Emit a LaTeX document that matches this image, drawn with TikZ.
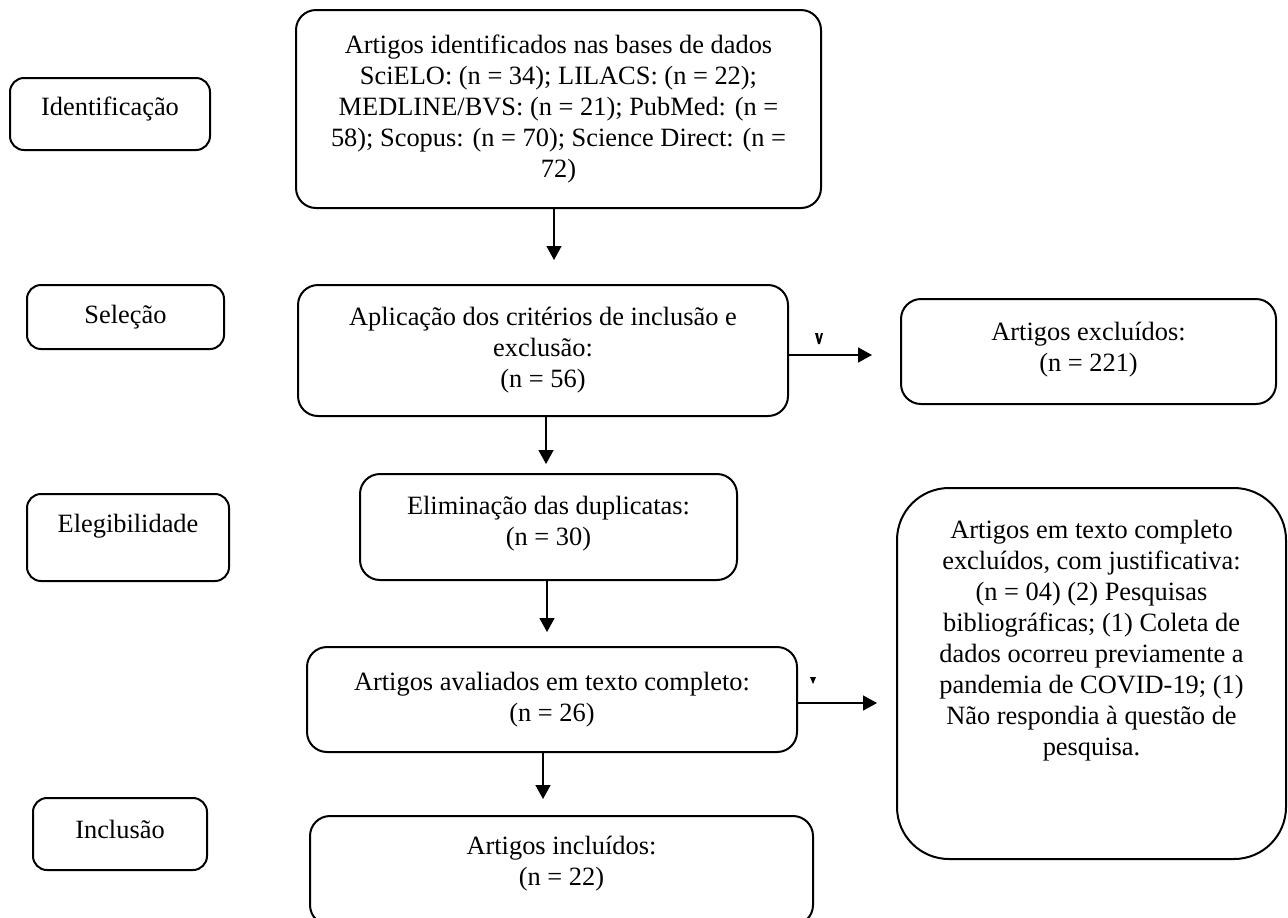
\documentclass[tikz,border=0pt]{standalone}
\usepackage{fontspec}
\setmainfont{Liberation Serif}
\usetikzlibrary{arrows.meta}
\begin{document}
\begin{tikzpicture}[x=0.5pt,y=-0.5pt,
  every node/.style={font=\fontsize{13.2pt}{15.5pt}\selectfont},
  mainbox/.style={draw, line width=1pt, rounded corners=10pt, inner sep=0pt},
  lblbox/.style={draw, line width=1pt, rounded corners=7pt, inner sep=0pt},
  bigbox/.style={draw, line width=1pt, rounded corners=26pt, inner sep=0pt},
  txt/.style={align=center, inner sep=0pt},
  arr/.style={line width=0.75pt, -{Triangle[length=7pt,width=7.5pt]}}]
\useasboundingbox (0,0) rectangle (1288,917);

% stage labels
\node[lblbox, minimum width=100pt, minimum height=36pt] (ident) at (110,114) {};
\node[txt] (identt) at ([yshift=2.5pt]ident.center) {Identificação};
\node[lblbox, minimum width=98.5pt, minimum height=32pt] (sell) at (125.5,317) {};
\node[txt] (sellt) at (sell.center) {Seleção};
\node[lblbox, minimum width=101pt, minimum height=43.5pt] (eleg) at (128,537.5) {};
\node[txt] (elegt) at ([yshift=5.5pt]eleg.center) {Elegibilidade};
\node[lblbox, minimum width=87pt, minimum height=36pt] (incll) at (120,834) {};
\node[txt] (incllt) at ([yshift=2.5pt]incll.center) {Inclusão};

% main column
\node[mainbox, minimum width=262.5pt, minimum height=99pt] (top) at (558.5,109) {};
\node[txt] (topt) at (top.center) {Artigos identificados nas bases de dados\\
SciELO: (n = 34); LILACS: (n = 22);\\
MEDLINE/BVS: (n = 21); PubMed: (n =\\
58); Scopus: (n = 70); Science Direct: (n =\\
72)};

\node[mainbox, minimum width=245pt, minimum height=65.5pt] (selm) at (543,350.5) {};
\node[txt] (selmt) at (selm.center) {Aplicação dos critérios de inclusão e\\ exclusão:\\ (n = 56)};

\node[mainbox, minimum width=187.5pt, minimum height=52.5pt] (excl) at (1088.5,351.5) {};
\node[txt] (exclt) at ([yshift=1pt]excl.center) {Artigos excluídos:\\ (n = 221)};

\node[mainbox, minimum width=188.5pt, minimum height=53pt] (elim) at (548.5,527) {};
\node[txt] (elimt) at ([yshift=1.5pt]elim.center) {Eliminação das duplicatas:\\ (n = 30)};

\node[mainbox, minimum width=245pt, minimum height=52.5pt] (aval) at (552,699.5) {};
\node[txt] (avalt) at (aval.center) {Artigos avaliados em texto completo:\\ (n = 26)};

\node[mainbox, minimum width=251.5pt, minimum height=54.5pt] (inclm) at (561.5,870.5) {};
\node[txt] (inclmt) at ([yshift=3.5pt]inclm.center) {Artigos incluídos:\\ (n = 22)};

\node[bigbox, minimum width=194.5pt, minimum height=185.5pt] (big) at (1091.5,673.5) {};
\node[txt] (bigt) at ([yshift=16.5pt]big.center) {Artigos em texto completo\\
excluídos, com justificativa:\\
(n = 04) (2) Pesquisas\\
bibliográficas; (1) Coleta de\\
dados ocorreu previamente a\\
pandemia de COVID-19; (1)\\
Não respondia à questão de\\
pesquisa.};

% connectors
\coordinate (t1) at (554,260);
\draw[arr] (top.south -| t1) -- (t1);
\coordinate (t2) at (546,464);
\draw[arr] (selm.south -| t2) -- (t2);
\coordinate (t3) at (547,632);
\draw[arr] (elim.south -| t3) -- (t3);
\coordinate (t4) at (543,799);
\draw[arr] (aval.south -| t4) -- (t4);
\coordinate (t5) at (872,355);
\draw[arr] (selm.east |- t5) -- (t5);
\coordinate (t6) at (877,703);
\draw[arr] (aval.east |- t6) -- (t6);

% small stray marks
\fill (815,333) -- (818,344) -- (820,344) -- (823,333) -- (821,333) -- (819,340) -- (818,333) -- cycle;
\fill (810,677) -- (816,677) -- (813,684) -- cycle;
\end{tikzpicture}
\end{document}
